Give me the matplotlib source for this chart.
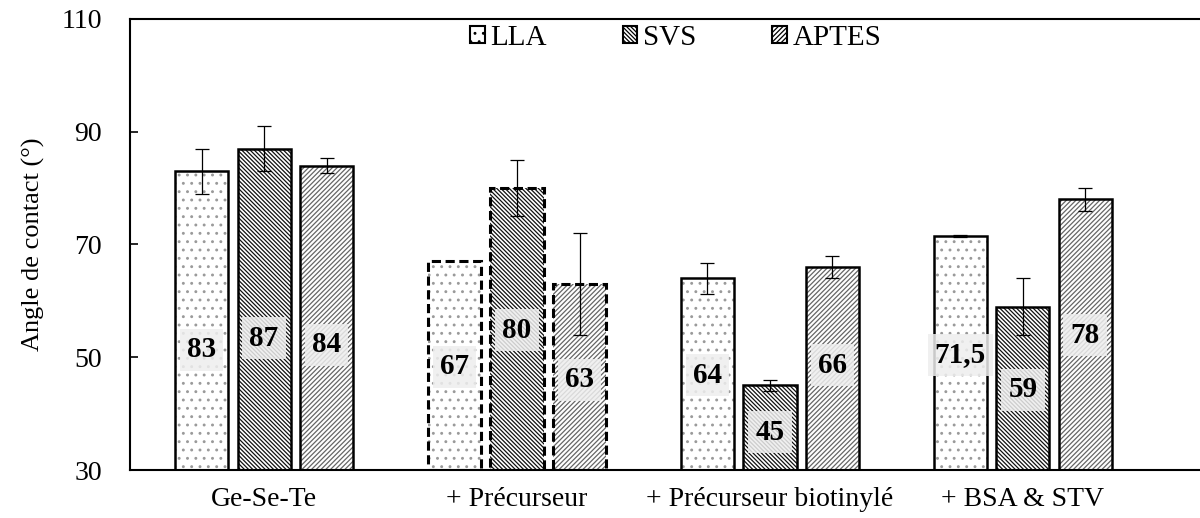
import numpy as np
import matplotlib
matplotlib.use("Agg")
import matplotlib.pyplot as plt
from matplotlib.patches import Patch

plt.rcParams['font.family'] = ['Liberation Serif', 'DejaVu Serif']
plt.rcParams['hatch.linewidth'] = 0.9

# donnees
categories = ['Ge-Se-Te', '+ Précurseur', '+ Précurseur biotinylé', '+ BSA & STV']
series = ['LLA', 'SVS', 'APTES']
lla = [83, 67, 64, 71.5]
svs = [87, 80, 45, 59]
aptes = [84, 63, 66, 78]
lla_err = [4, 0, 2.7, 0.15]
svs_err = [4, 5, 1, 5]
aptes_err = [1.4, 9, 2, 2]
lla_txt = ['83', '67', '64', '71,5']
svs_txt = ['87', '80', '45', '59']
aptes_txt = ['84', '63', '66', '78']
# hauteur des etiquettes (en degres)
lla_lab_y = [51.3, 48.3, 46.8, 50.4]
svs_lab_y = [53.4, 54.8, 36.7, 44.2]
aptes_lab_y = [52.2, 46.0, 48.6, 53.9]

values = [lla, svs, aptes]
errors = [lla_err, svs_err, aptes_err]
texts = [lla_txt, svs_txt, aptes_txt]
lab_y = [lla_lab_y, svs_lab_y, aptes_lab_y]
hatches = ['..', '\\\\\\\\\\\\\\\\', '///////']
hatch_cols = ['#9a9a9a', '#111111', '#666666']
dashed = [False, True, False, False]  # le groupe "+ Précurseur" a des contours en tirets

fig = plt.figure(figsize=(12, 5.18), dpi=100)
ax = fig.add_axes([130 / 1200, 48 / 518, 1070 / 1200, 451 / 518])

x = np.arange(len(categories))
width = 0.21
step = 0.247

for i in range(3):
    pos = x + (i - 1) * step
    # remplissage hachure
    ax.bar(pos, np.array(values[i]) - 30, width, bottom=30, color='white',
           hatch=hatches[i], edgecolor=hatch_cols[i], linewidth=0, zorder=2)
    # contours
    for j in range(len(categories)):
        ax.bar(pos[j], values[i][j] - 30, width, bottom=30, facecolor='none',
               edgecolor='black', linewidth=2.2 if dashed[j] else 1.8,
               linestyle=(0, (3, 1.5)) if dashed[j] else '-', zorder=3)
        if errors[i][j] > 0:
            ax.errorbar(pos[j], values[i][j], yerr=errors[i][j], fmt='none',
                        ecolor='black', elinewidth=0.9, capsize=5, capthick=0.9, zorder=4)
        ax.text(pos[j], lab_y[i][j], texts[i][j], ha='center', va='center',
                fontsize=21, fontweight='bold', zorder=5,
                bbox=dict(boxstyle='square,pad=0.25', facecolor='#eeeeee',
                          edgecolor='none', alpha=0.85))

ax.set_xlim(-0.53, 3.70)
ax.set_ylim(30, 110)
ax.set_yticks([30, 50, 70, 90, 110])
ax.set_xticks(x)
ax.set_xticklabels(categories, fontsize=20)
ax.tick_params(axis='y', labelsize=20, direction='in', length=6, width=1.2, pad=20)
ax.tick_params(axis='x', length=0, pad=12)
ax.set_ylabel('Angle de contact (°)', fontsize=19, labelpad=12)
ax.spines['right'].set_visible(False)
for s in ['top', 'left', 'bottom']:
    ax.spines[s].set_linewidth(1.5)

handles = [Patch(facecolor='white', edgecolor='black', hatch=hatches[i], linewidth=1.5)
           for i in range(3)]
ax.legend(handles, series, loc='upper center', bbox_to_anchor=(0.51, 1.045),
          ncol=3, frameon=False, fontsize=21, handlelength=0.5, handleheight=0.5,
          handletextpad=0.2, columnspacing=2.6)

fig.savefig('out.png', dpi=100)
